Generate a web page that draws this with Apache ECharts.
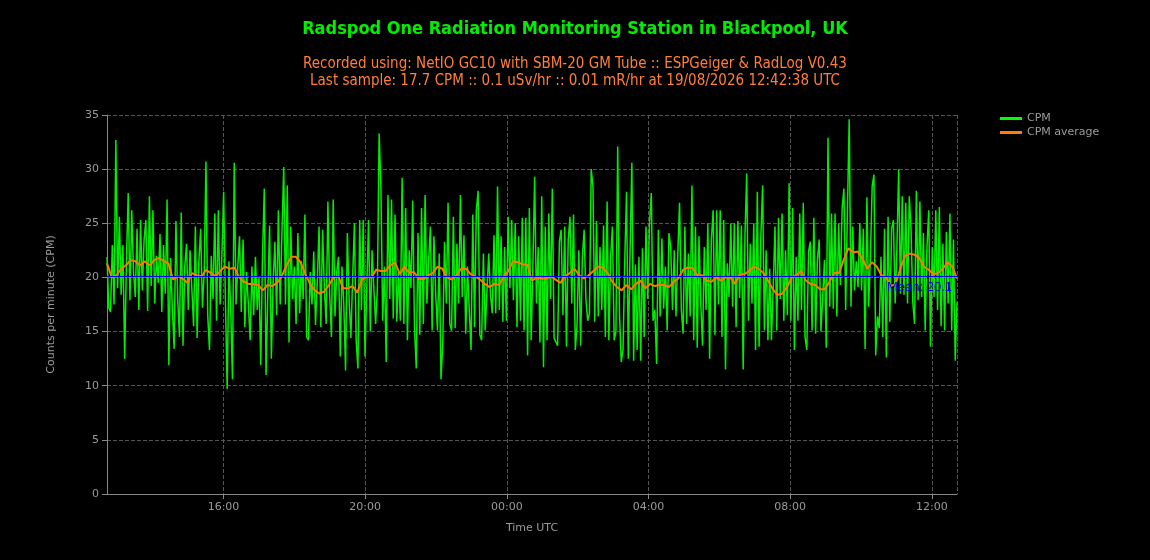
<!DOCTYPE html>
<html>
<head>
<meta charset="utf-8">
<title>Radspod One Radiation Monitoring Station</title>
<script src="https://cdn.jsdelivr.net/npm/echarts@6/dist/echarts.min.js"></script>
<style>
  html, body { margin: 0; padding: 0; background: #000; }
  #chart { width: 1150px; height: 560px; }
</style>
</head>
<body>
<div id="chart"></div>
<script>
// 24 h window ending at the last sample
const START = '2026-08-18T12:42:38Z'
const END = '2026-08-19T12:42:38Z'
const MEAN_CPM = 20.1

// CPM readings, evenly spaced across the window
const cpm = [
  21.9, 17.2, 16.8, 23.0, 17.5, 32.7, 19.0, 25.6, 18.4, 23.0,
  12.5, 21.5, 27.8, 17.9, 26.2, 20.5, 18.2, 24.5, 17.0, 25.3,
  18.8, 23.5, 25.3, 16.9, 27.5, 19.2, 26.2, 17.6, 22.0, 19.5,
  24.0, 16.8, 23.0, 18.5, 27.2, 11.9, 21.8, 17.0, 13.4, 25.2,
  18.0, 14.5, 26.0, 13.7, 21.0, 23.1, 17.0, 22.5, 19.0, 15.5,
  24.7, 14.4, 21.5, 24.5, 17.2, 20.5, 30.7, 16.5, 13.3, 22.0,
  18.0, 25.9, 16.0, 26.2,
  17.5, 22.0, 27.9, 18.0, 9.7, 21.5, 17.0, 10.6, 30.6, 17.5,
  21.0, 23.8, 16.8, 23.5, 15.4, 20.5, 17.5, 14.2, 21.0, 16.5,
  21.9, 17.0, 20.0, 11.9, 22.0, 28.2, 11.0, 18.5, 24.8, 12.5,
  19.5, 23.3, 16.5, 26.2, 17.5, 24.1, 30.2, 17.5, 28.5, 14.0,
  24.7, 18.0, 21.0, 15.7, 24.1, 16.7, 21.5, 18.0, 25.8, 14.5,
  14.2, 20.5, 17.5, 22.4, 15.6, 19.5,
  24.7, 15.4, 24.4, 19.0, 15.7, 27.0, 18.5, 14.5, 27.2, 16.4,
  20.5, 21.9, 12.7, 21.0, 17.5, 11.4, 24.1, 18.0, 14.4, 20.0,
  25.0, 14.2, 11.6, 25.3, 17.0, 25.3, 12.7, 19.0, 25.3, 15.0,
  22.5, 19.0, 15.7, 19.0, 33.3, 28.4, 16.0, 21.0, 12.2, 27.6,
  18.0, 27.2, 16.2, 25.8, 15.9, 20.5, 16.0, 29.2, 15.7, 26.4,
  14.2, 22.5, 19.0, 27.1, 15.4, 11.6, 24.1, 14.7, 26.4, 15.7,
  27.6, 17.6, 21.5, 24.7, 15.1, 23.8, 18.5,
  15.1, 22.2, 10.6, 13.9, 23.3, 17.6, 26.9, 15.7, 15.1, 25.6,
  15.3, 23.1, 17.6, 27.6, 18.2, 23.9, 14.8, 21.0, 17.0, 13.3,
  25.8, 15.4, 26.2, 28.0, 14.7, 14.2, 22.2, 15.1, 15.0, 22.2,
  18.4, 16.7, 23.9, 16.7, 28.4, 17.0, 23.8, 15.9, 22.8, 16.0,
  25.6, 19.0, 25.3, 17.9, 25.0, 15.4, 23.8, 16.0, 25.5, 15.1,
  25.5, 12.8, 26.4, 14.2, 21.0, 29.3, 17.6, 22.8, 14.0, 27.5,
  11.7, 24.7, 14.2, 25.9, 18.0, 28.2, 14.4,
  14.5, 13.7, 23.3, 24.4, 16.5, 24.7, 13.6, 23.5, 25.6, 17.6,
  25.8, 13.3, 15.7, 22.5, 13.7, 21.9, 24.4, 18.0, 16.0, 16.7,
  30.0, 28.4, 15.9, 25.2, 16.4, 22.8, 17.0, 24.8, 14.5, 27.0,
  14.2, 21.9, 24.7, 14.2, 15.0, 32.1, 16.7, 12.2, 13.3, 21.6,
  27.9, 12.5, 22.5, 30.6, 12.3, 21.2, 13.3, 21.9, 12.3, 22.7,
  14.5, 24.7, 18.0, 25.0, 27.8, 16.0, 17.0, 12.0, 24.4, 16.4,
  23.6, 17.1, 21.0, 15.1, 24.1, 22.8, 17.0,
  22.5, 16.4, 22.2, 26.9, 17.0, 14.8, 24.7, 15.7, 22.2, 16.4,
  28.5, 14.2, 24.7, 13.5, 23.8, 17.6, 13.7, 22.8, 17.0, 25.0,
  12.5, 23.5, 26.2, 14.7, 26.2, 17.5, 26.2, 14.5, 25.3, 11.5,
  21.3, 18.2, 25.0, 17.3, 25.0, 15.4, 25.2, 18.1, 24.8, 11.5,
  23.8, 29.6, 16.0, 23.1, 17.6, 25.0, 13.3, 27.9, 13.6, 23.8,
  28.5, 15.1, 22.5, 14.2, 20.8, 14.2, 19.0, 24.7, 15.1, 25.5,
  18.0, 25.9, 16.0, 22.5, 16.5, 28.7, 16.0,
  26.4, 13.3, 21.9, 16.0, 25.9, 17.0, 26.9, 14.5, 13.3, 22.4,
  23.3, 15.1, 25.5, 14.8, 21.6, 23.5, 15.0, 18.2, 21.6, 13.5,
  32.9, 17.3, 25.9, 17.1, 25.9, 16.4, 25.0, 19.3, 26.4, 28.2,
  17.0, 26.2, 34.6, 17.3, 24.7, 18.8, 21.5, 19.1, 25.0, 18.8,
  24.5, 13.4, 27.4, 17.3, 21.9, 28.4, 29.5, 12.8, 16.4, 15.3,
  21.9, 14.5, 24.5, 12.6, 25.6, 15.9, 24.5, 25.3, 17.6, 22.8,
  30.0, 18.5, 27.5, 18.4, 26.9, 17.6, 27.5,
  24.4, 17.7, 15.7, 28.0, 17.9, 27.0, 18.2, 24.1, 15.1, 22.8,
  26.2, 13.6, 22.8, 18.2, 26.2, 17.0, 26.5, 15.5, 23.1, 15.1,
  24.2, 17.6, 25.9, 15.1, 23.5, 12.3, 17.7
]

// CPM moving average, evenly spaced across the window
const cpmAverage = [
  21.3, 20.0, 20.2, 20.8, 21.1, 21.6, 21.5, 21.1, 21.5, 21.1,
  21.6, 21.8, 21.5, 21.3, 19.8, 20.1, 19.9, 19.5, 20.4, 20.2,
  20.1, 20.7, 20.4, 20.1, 20.6, 21.0, 20.8, 20.9, 20.0, 19.6,
  19.4, 19.4, 19.3, 18.8, 19.3, 19.2, 19.5, 20.1, 21.1, 21.9,
  21.9, 21.4, 20.3, 19.4, 18.8, 18.5, 18.7, 19.3, 20.0, 20.1,
  19.0, 19.0, 19.2, 18.6, 19.8, 20.1, 20.0, 20.7, 20.6, 20.6,
  21.1, 21.4, 20.3, 21.0, 20.4, 20.5, 19.9, 19.8, 20.2, 20.4,
  21.0, 20.8, 20.0, 19.8, 20.2, 20.8, 20.8, 20.3, 20.1, 19.8,
  19.4, 19.1, 19.4, 19.3, 20.0, 20.6, 21.5, 21.4, 21.2, 21.2,
  19.7, 20.0, 19.9, 19.9, 20.1, 19.8, 19.5, 20.1, 20.4, 20.8,
  20.2, 19.9, 20.2, 20.6, 21.0, 20.9, 20.4, 19.6, 19.1, 18.8,
  19.3, 18.9, 19.4, 19.7, 19.0, 19.4, 19.2, 19.3, 19.3, 19.1,
  19.6, 19.9, 20.7, 20.9, 20.9, 20.2, 20.2, 19.7, 19.6, 20.0,
  19.7, 20.0, 20.0, 19.4, 20.3, 20.3, 20.6, 21.0, 20.8, 20.4,
  19.7, 18.9, 18.4, 18.5, 19.1, 20.0, 20.2, 20.6, 19.7, 19.4,
  19.3, 18.9, 18.9, 19.6, 20.4, 20.4, 21.6, 22.7, 22.3, 22.4,
  21.7, 20.8, 21.4, 21.0, 20.2, 20.0, 19.2, 19.4, 20.8, 22.0,
  22.2, 22.1, 21.8, 21.0, 20.7, 20.3, 20.4, 20.8, 21.4, 21.0,
  19.9
]

const yTicks = { min: 0, max: 35, step: 5 }
const HOUR = 3600 * 1000

function spread(values) {
  const t0 = Date.parse(START)
  const t1 = Date.parse(END)
  const dt = (t1 - t0) / (values.length - 1)
  return values.map((v, i) => [t0 + i * dt, v])
}

const chart = echarts.init(document.getElementById('chart'))

const axisFont = { color: '#9a9a9a', fontSize: 11, fontFamily: 'DejaVu Sans' }

chart.setOption({
  useUTC: true,
  backgroundColor: '#000',
  animation: false,
  title: {
    text: 'Radspod One Radiation Monitoring Station in Blackpool, UK',
    subtext: 'Recorded using: NetIO GC10 with SBM-20 GM Tube :: ESPGeiger & RadLog V0.43\n' +
      'Last sample: 17.7 CPM :: 0.1 uSv/hr :: 0.01 mR/hr at 19/08/2026 12:42:38 UTC',
    left: 'center',
    top: 15,
    itemGap: 18,
    textStyle: { color: '#00ee00', fontSize: 18, fontWeight: 'bold', fontFamily: 'DejaVu Sans Condensed' },
    subtextStyle: { color: '#ff7f3a', fontSize: 15, lineHeight: 17, fontFamily: 'DejaVu Sans Condensed' }
  },
  legend: {
    orient: 'vertical',
    left: 995,
    top: 108,
    itemGap: 3,
    itemWidth: 22,
    itemHeight: 3,
    icon: 'rect',
    data: ['CPM', 'CPM average'],
    textStyle: { color: '#9a9a9a', fontSize: 11, fontFamily: 'DejaVu Sans' }
  },
  grid: { left: 107, right: 193, top: 115, bottom: 66 },
  xAxis: {
    type: 'time',
    min: START,
    max: END,
    minInterval: 4 * HOUR,
    maxInterval: 4 * HOUR,
    name: 'Time UTC',
    nameLocation: 'middle',
    nameGap: 29,
    nameTextStyle: axisFont,
    axisLine: { lineStyle: { color: '#888' } },
    axisTick: { show: true, length: 5, lineStyle: { color: '#888' } },
    axisLabel: Object.assign({ formatter: '{HH}:{mm}', showMinLabel: false, showMaxLabel: false, margin: 8 }, axisFont),
    splitLine: { show: true, lineStyle: { color: '#555', type: 'dashed' } },
    minorTick: { show: false }
  },
  yAxis: {
    type: 'value',
    min: yTicks.min,
    max: yTicks.max,
    interval: yTicks.step,
    name: 'Counts per minute (CPM)',
    nameLocation: 'middle',
    nameGap: 50,
    nameTextStyle: axisFont,
    axisLine: { show: true, lineStyle: { color: '#888' } },
    axisTick: { show: true, length: 5, lineStyle: { color: '#888' } },
    axisLabel: Object.assign({ margin: 8 }, axisFont),
    splitLine: { show: true, lineStyle: { color: '#555', type: 'dashed' } }
  },
  series: [
    {
      name: 'Mean',
      type: 'line',
      z: 1,
      data: [],
      markLine: {
        silent: true,
        symbol: 'none',
        lineStyle: { color: '#0000ff', type: 'solid', width: 1 },
        label: { position: 'insideEndBottom', color: '#0000ff', fontSize: 13, formatter: 'Mean: ' + MEAN_CPM },
        data: [{ yAxis: MEAN_CPM }]
      }
    },
    {
      name: 'CPM',
      type: 'line',
      z: 2,
      showSymbol: false,
      color: '#00ff00',
      lineStyle: { width: 1.5, color: '#00ee00' },
      data: spread(cpm)
    },
    {
      name: 'CPM average',
      type: 'line',
      z: 3,
      showSymbol: false,
      color: '#ff8000',
      lineStyle: { width: 2, color: '#ff7a00' },
      data: spread(cpmAverage)
    }
  ]
})
</script>
</body>
</html>
